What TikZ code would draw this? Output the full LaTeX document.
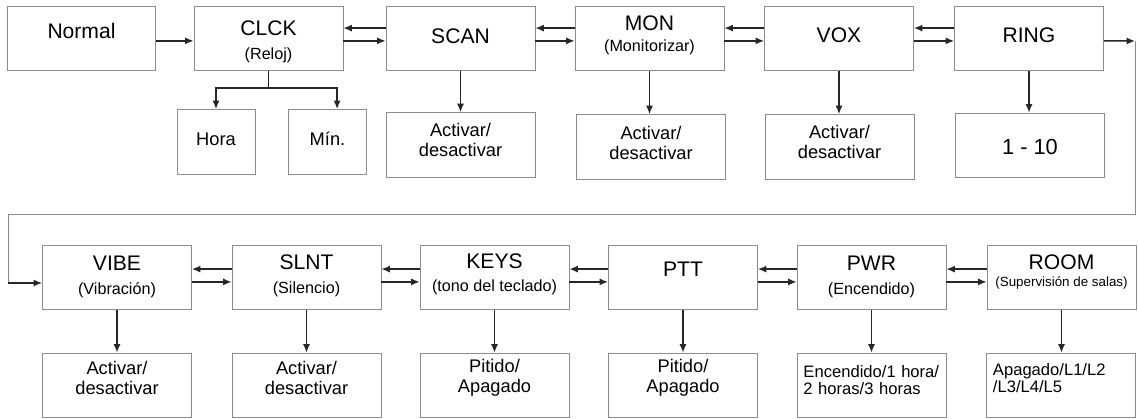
\documentclass[tikz,border=0pt]{standalone}
\usepackage{fontspec}
\setmainfont{Liberation Sans}
\usetikzlibrary{arrows.meta}
\newcommand{\paren}[1]{{\fontsize{11.5}{13}\selectfont #1}}

\begin{document}
\begin{tikzpicture}[
    x=0.025cm, y=-0.025cm,
    block/.style={rectangle, draw=black!45, line width=0.6pt, minimum width=3.72cm, minimum height=1.62cm, inner ysep=0pt, align=center, font=\fontsize{15}{17}\selectfont},
    opt/.style={block, font=\fontsize{13}{14.2}\selectfont},
    small/.style={opt, minimum width=1.95cm},
    list/.style={block, font=\fontsize{11.8}{12.1}\selectfont, text width=3.4cm, inner xsep=0pt, align=left},
    drop/.style={text height=#1, text depth=0pt},
    rise/.style={text height=0pt, text depth=#1},
    arrow/.style={-{Latex[length=6pt, width=5pt]}, line width=1.1pt, draw=black!85},
    wire/.style={draw=black!45, line width=0.6pt},
]
\useasboundingbox (0,0) rectangle (1138,419);

% top row
\node[block, drop=0.7pt] (t1) at (81.5,38.5) {Normal};
\node[block, drop=30pt] (t2) at (268.5,38.5) {CLCK\\\paren{(Reloj)}};
\node[block, drop=7.8pt] (t3) at (460.5,38.5) {SCAN};
\node[block, drop=19.2pt] (t4) at (649.5,38.5) {MON\\[-2pt]\paren{(Monitorizar)}};
\node[block, drop=6.4pt] (t5) at (839,38.5) {VOX};
\node[block, drop=6.4pt] (t6) at (1029,38.5) {RING};

\node[small, drop=5.3pt] (t2a) at (216,142) {Hora};
\node[small, drop=5.3pt] (t2b) at (327.5,142) {Mín.};
\node[opt, drop=16.6pt] (t3a) at (460.5,145) {Activar/\\desactivar};
\node[opt, drop=17.5pt] (t4a) at (651,147) {Activar/\\desactivar};
\node[opt, drop=16.1pt] (t5a) at (839.5,147) {Activar/\\desactivar};
\node[block, drop=12.1pt, font=\fontsize{15.5}{17}\selectfont] (t6a) at (1030,145.5) {1 - 10};

\draw[arrow] ([yshift=-0.06cm]t1.east) -- ([yshift=-0.06cm]t2.west);
\draw[arrow] ([yshift=0.26cm]t3.west) -- ([yshift=0.26cm]t2.east); \draw[arrow] ([yshift=-0.06cm]t2.east) -- ([yshift=-0.06cm]t3.west);
\draw[arrow] ([yshift=0.26cm]t4.west) -- ([yshift=0.26cm]t3.east); \draw[arrow] ([yshift=-0.06cm]t3.east) -- ([yshift=-0.06cm]t4.west);
\draw[arrow] ([yshift=0.26cm]t5.west) -- ([yshift=0.26cm]t4.east); \draw[arrow] ([yshift=-0.06cm]t4.east) -- ([yshift=-0.06cm]t5.west);
\draw[arrow] ([yshift=0.26cm]t6.west) -- ([yshift=0.26cm]t5.east); \draw[arrow] ([yshift=-0.06cm]t5.east) -- ([yshift=-0.06cm]t6.west);

\coordinate (fork) at (268.5,88);
\draw[arrow] (t2.south) -- (fork) -| (t2a.north);
\draw[arrow] (fork) -| ([xshift=0.24cm]t2b.north);
\draw[arrow] (t3.south) -- (t3.south |- t3a.north);
\draw[arrow] (t4.south) -- (t4.south |- t4a.north);
\draw[arrow] (t5.south) -- (t5.south |- t5a.north);
\draw[arrow] (t6.south) -- (t6.south |- t6a.north);

% wrap to second row
\coordinate (ringout) at (1135,41);
\coordinate (wrap) at (8,214);
\coordinate (back) at (8,283);
\draw[arrow] ([yshift=-0.06cm]t6.east) -- (ringout);
\draw[wire] (ringout) |- (wrap) -- (back);

% bottom row
\node[block, drop=23.5pt] (b1) at (117,277.5) {VIBE\\\paren{(Vibración)}};
\node[block, drop=22.8pt] (b2) at (306.5,277.5) {SLNT\\\paren{(Silencio)}};
\node[block, drop=20.6pt] (b3) at (494.5,277.5) {KEYS\\\paren{(tono del teclado)}};
\node[block, rise=2.1pt] (b4) at (683,277.5) {PTT};
\node[block, drop=23.5pt] (b5) at (871.5,277.5) {PWR\\\paren{(Encendido)}};
\node[block, drop=12.1pt] (b6) at (1061.5,277.5) {ROOM\\[-5.6pt]{\fontsize{9.5}{11}\selectfont (Supervisión de salas)}};

\node[opt, drop=12.1pt] (b1a) at (117,385.5) {Activar/\\desactivar};
\node[opt, drop=12.1pt] (b2a) at (306.5,385.5) {Activar/\\desactivar};
\node[opt, drop=10pt] (b3a) at (494.5,385.5) {Pitido/\\Apagado};
\node[opt, drop=10pt] (b4a) at (683,385.5) {Pitido/\\Apagado};
\node[list, rise=11.7pt] (b5a) at (871.5,385.5) {Encendido/1 hora/\\2 horas/3 horas};
\node[list, rise=14.9pt] (b6a) at (1061,385.5) {Apagado/L1/L2\\/L3/L4/L5};

\draw[arrow] (back) -- (back -| b1.west);
\draw[arrow] ([yshift=0.21cm]b2.west) -- ([yshift=0.21cm]b1.east); \draw[arrow] ([yshift=-0.11cm]b1.east) -- ([yshift=-0.11cm]b2.west);
\draw[arrow] ([yshift=0.21cm]b3.west) -- ([yshift=0.21cm]b2.east); \draw[arrow] ([yshift=-0.11cm]b2.east) -- ([yshift=-0.11cm]b3.west);
\draw[arrow] ([yshift=0.21cm]b4.west) -- ([yshift=0.21cm]b3.east); \draw[arrow] ([yshift=-0.11cm]b3.east) -- ([yshift=-0.11cm]b4.west);
\draw[arrow] ([yshift=0.21cm]b5.west) -- ([yshift=0.21cm]b4.east); \draw[arrow] ([yshift=-0.11cm]b4.east) -- ([yshift=-0.11cm]b5.west);
\draw[arrow] ([yshift=0.21cm]b6.west) -- ([yshift=0.21cm]b5.east); \draw[arrow] ([yshift=-0.11cm]b5.east) -- ([yshift=-0.11cm]b6.west);

\draw[arrow] (b1.south) -- (b1.south |- b1a.north);
\draw[arrow] (b2.south) -- (b2.south |- b2a.north);
\draw[arrow] (b3.south) -- (b3.south |- b3a.north);
\draw[arrow] (b4.south) -- (b4.south |- b4a.north);
\draw[arrow] (b5.south) -- (b5.south |- b5a.north);
\draw[arrow] (b6.south) -- (b6.south |- b6a.north);
\end{tikzpicture}
\end{document}
